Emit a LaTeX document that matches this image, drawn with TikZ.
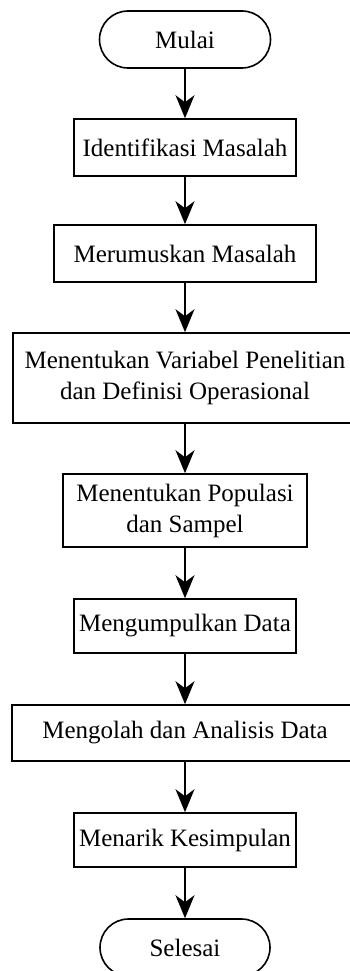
\documentclass[tikz,border=0pt]{standalone}
\usepackage{fontspec}
\setmainfont{Liberation Serif}
\usetikzlibrary{arrows.meta,shapes.misc}
\begin{document}
\begin{tikzpicture}[x=1pt,y=-1pt,
  box/.style={draw=black,line width=1.6pt,inner sep=0pt,align=center,
    font=\fontsize{25}{31}\selectfont},
  term/.style={box,rounded rectangle},
  arr/.style={line width=1.6pt,-{Stealth[length=23pt,width=19pt,inset=7pt]}}]
\useasboundingbox (0,0) rectangle (350,971);
\node[term,minimum width=171pt,minimum height=57pt] (mulai) at (185,39.5) {Mulai};
\node[box,minimum width=222pt,minimum height=57pt] (idm) at (185,147.5) {Identifikasi Masalah};
\node[box,minimum width=262pt,minimum height=57pt] (rum) at (185,253.5) {Merumuskan Masalah};
\node[box,minimum width=344pt,minimum height=90pt] (var) at (185,378) {Menentukan Variabel Penelitian\\dan Definisi Operasional};
\node[box,minimum width=244pt,minimum height=73pt] (pop) at (185,510.5) {Menentukan Populasi\\dan Sampel};
\node[box,minimum width=222pt,minimum height=54pt] (kum) at (185,626) {Mengumpulkan Data};
\node[box,minimum width=346pt,minimum height=56pt] (olah) at (185,733) {Mengolah dan Analisis Data};
\node[box,minimum width=222pt,minimum height=54pt] (tarik) at (185,840) {Menarik Kesimpulan};
\node[term,minimum width=170pt,minimum height=57pt] (selesai) at (185,947.5) {Selesai};
\draw[arr] (mulai.south) -- (idm.north);
\draw[arr] (idm) -- (rum);
\draw[arr] (rum) -- (var);
\draw[arr] (var) -- (pop);
\draw[arr] (pop) -- (kum);
\draw[arr] (kum) -- (olah);
\draw[arr] (olah) -- (tarik);
\draw[arr] (tarik.south) -- (selesai.north);
\end{tikzpicture}
\end{document}
